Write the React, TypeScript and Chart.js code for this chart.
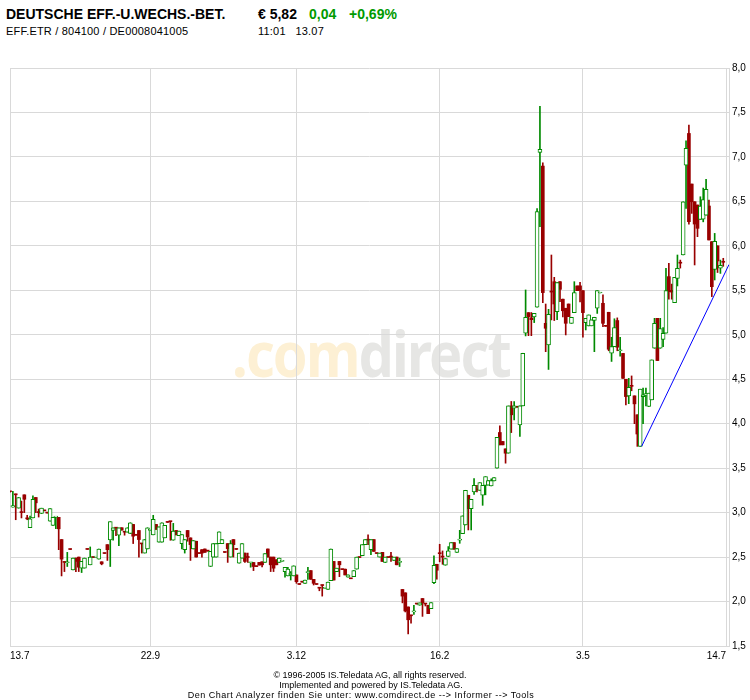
import React, { useEffect, useRef } from 'react';
import { Chart, registerables } from 'chart.js';

Chart.register(...registerables);

// Daily candles, 13.7.2004 .. 14.7.2005 (trading-day index = array position)
const openP = [
  3.24, 3.06, 3.21, 3.05, 3.01, 3.20, 2.935, 2.83, 2.94, 3.17,
  3.01, 2.99, 3.025, 3.00, 2.905, 2.856, 2.95, 2.947, 2.697, 2.447,
  2.436, 2.59, 2.356, 2.489, 2.50, 2.375, 2.375, 2.591, 2.413, 2.50,
  2.50, 2.477, 2.447, 2.545, 2.64, 2.693, 2.80, 2.83, 2.746, 2.83,
  2.784, 2.78, 2.765, 2.867, 2.75, 2.799, 2.652, 2.545, 2.591, 2.80,
  2.75, 2.867, 2.667, 2.667, 2.716, 2.894, 2.90, 2.689, 2.799, 2.742,
  2.652, 2.583, 2.799, 2.716, 2.591, 2.678, 2.545, 2.583, 2.591, 2.572,
  2.394, 2.50, 2.50, 2.652, 2.652, 2.557, 2.652, 2.50, 2.697, 2.591,
  2.432, 2.489, 2.545, 2.50, 2.436, 2.439, 2.398, 2.44, 2.447, 2.439,
  2.591, 2.50, 2.50, 2.47, 2.439, 2.451, 2.337, 2.288, 2.30, 2.288,
  2.299, 2.197, 2.223, 2.205, 2.326, 2.348, 2.25, 2.197, 2.159, 2.186,
  2.148, 2.136, 2.235, 2.451, 2.337, 2.451, 2.364, 2.364, 2.273, 2.261,
  2.28, 2.364, 2.50, 2.515, 2.64, 2.697, 2.583, 2.697, 2.545, 2.50,
  2.553, 2.439, 2.50, 2.51, 2.462, 2.50, 2.44, 2.136, 2.098, 1.939,
  1.845, 1.883, 1.977, 1.958, 2.034, 1.977, 1.958, 1.92, 2.213, 2.419,
  2.543, 2.506, 2.408, 2.506, 2.588, 2.663, 2.551, 2.69, 2.764, 2.861,
  3.195, 3.045, 3.232, 3.26, 3.251, 3.195, 3.307, 3.31, 3.30, 3.356,
  3.50, 3.901, 3.80, 3.717, 3.668, 4.20, 4.174, 4.19, 3.987, 4.20,
  5.017, 5.249, 5.19, 5.20, 5.309, 7.05, 6.897, 5.129, 4.886, 5.485,
  5.597, 5.26, 5.597, 5.40, 5.298, 5.346, 5.129, 5.249, 5.549, 5.55,
  5.496, 5.137, 5.099, 5.10, 5.16, 5.298, 5.47, 5.354, 5.10, 5.253,
  4.792, 4.867, 5.16, 4.82, 4.79, 4.50, 4.313, 4.43, 4.313, 4.10,
  3.745, 4.305, 4.32, 4.193, 4.268, 4.848, 5.185, 4.848, 4.949, 5.017,
  5.654, 5.50, 5.361, 5.635, 5.81, 5.897, 6.908, 7.264, 6.695, 6.496,
  6.459, 6.298, 6.30, 6.346, 6.448, 6.047, 5.736, 6.00, 5.75, 5.82,
];
const highP = [
  3.24, 3.24, 3.21, 3.17, 3.13, 3.20, 2.97, 2.96, 3.19, 3.17,
  3.04, 3.05, 3.025, 3.00, 3.045, 2.947, 2.955, 2.947, 2.697, 2.447,
  2.553, 2.59, 2.489, 2.489, 2.50, 2.451, 2.489, 2.591, 2.614, 2.50,
  2.505, 2.591, 2.447, 2.545, 2.64, 2.898, 2.83, 2.83, 2.83, 2.83,
  2.784, 2.83, 2.886, 2.867, 2.75, 2.799, 2.652, 2.697, 2.83, 2.805,
  2.97, 2.867, 2.841, 2.886, 2.856, 2.894, 2.90, 2.879, 2.799, 2.792,
  2.754, 2.697, 2.799, 2.716, 2.686, 2.678, 2.545, 2.583, 2.591, 2.572,
  2.564, 2.652, 2.652, 2.784, 2.697, 2.557, 2.652, 2.686, 2.697, 2.591,
  2.545, 2.652, 2.545, 2.545, 2.44, 2.439, 2.398, 2.44, 2.447, 2.538,
  2.591, 2.50, 2.50, 2.47, 2.489, 2.455, 2.386, 2.386, 2.337, 2.402,
  2.299, 2.197, 2.223, 2.242, 2.386, 2.348, 2.25, 2.197, 2.159, 2.186,
  2.152, 2.22, 2.591, 2.451, 2.375, 2.451, 2.364, 2.364, 2.299, 2.261,
  2.348, 2.50, 2.50, 2.64, 2.697, 2.75, 2.697, 2.697, 2.545, 2.545,
  2.553, 2.50, 2.50, 2.553, 2.50, 2.50, 2.489, 2.136, 2.098, 1.939,
  1.845, 1.958, 1.977, 1.985, 2.034, 1.977, 1.958, 1.989, 2.513, 2.419,
  2.644, 2.569, 2.483, 2.618, 2.663, 2.663, 2.596, 2.801, 2.963, 3.251,
  3.195, 3.15, 3.382, 3.307, 3.337, 3.307, 3.404, 3.36, 3.38, 3.393,
  3.848, 3.976, 3.80, 3.717, 4.20, 4.25, 4.25, 4.19, 4.20, 4.792,
  5.504, 5.249, 5.25, 5.24, 6.42, 7.57, 6.934, 5.346, 5.286, 5.897,
  5.646, 5.586, 5.597, 5.40, 5.298, 5.346, 5.197, 5.597, 5.549, 5.59,
  5.496, 5.185, 5.223, 5.167, 5.197, 5.496, 5.475, 5.448, 5.10, 5.253,
  4.972, 5.18, 5.19, 4.97, 4.79, 4.50, 4.51, 4.537, 4.313, 4.10,
  4.388, 4.40, 4.40, 4.343, 4.717, 5.185, 5.185, 5.185, 5.08, 5.747,
  5.803, 5.57, 5.646, 5.897, 5.84, 6.496, 7.18, 7.358, 6.695, 6.496,
  6.459, 6.552, 6.65, 6.747, 6.515, 6.047, 6.14, 6.00, 5.84, 5.86,
];
const lowP = [
  3.23, 3.06, 2.92, 3.05, 2.94, 3.00, 2.92, 2.83, 2.94, 3.00,
  2.95, 2.99, 3.02, 2.995, 2.905, 2.856, 2.82, 2.583, 2.288, 2.337,
  2.394, 2.585, 2.356, 2.337, 2.337, 2.326, 2.375, 2.586, 2.413, 2.495,
  2.50, 2.477, 2.413, 2.54, 2.462, 2.394, 2.69, 2.74, 2.629, 2.803,
  2.746, 2.78, 2.765, 2.652, 2.745, 2.50, 2.545, 2.545, 2.591, 2.80,
  2.75, 2.811, 2.667, 2.667, 2.716, 2.89, 2.689, 2.689, 2.75, 2.742,
  2.591, 2.545, 2.678, 2.462, 2.591, 2.50, 2.54, 2.50, 2.553, 2.567,
  2.394, 2.50, 2.50, 2.652, 2.652, 2.552, 2.44, 2.50, 2.50, 2.586,
  2.432, 2.489, 2.44, 2.44, 2.386, 2.348, 2.393, 2.41, 2.39, 2.439,
  2.50, 2.337, 2.337, 2.413, 2.439, 2.451, 2.273, 2.288, 2.242, 2.288,
  2.205, 2.192, 2.218, 2.205, 2.25, 2.25, 2.186, 2.192, 2.121, 2.061,
  2.148, 2.136, 2.235, 2.242, 2.337, 2.28, 2.359, 2.299, 2.273, 2.256,
  2.28, 2.364, 2.495, 2.515, 2.64, 2.64, 2.527, 2.564, 2.54, 2.50,
  2.451, 2.439, 2.495, 2.451, 2.462, 2.413, 2.394, 1.985, 1.883, 1.636,
  1.758, 1.856, 1.972, 1.958, 1.833, 1.95, 1.864, 1.92, 2.20, 2.251,
  2.446, 2.419, 2.408, 2.506, 2.588, 2.588, 2.551, 2.655, 2.764, 2.861,
  2.805, 2.805, 3.206, 3.232, 3.251, 3.082, 3.20, 3.31, 3.30, 3.356,
  3.50, 3.762, 3.762, 3.556, 3.668, 3.90, 4.043, 4.185, 3.856, 4.20,
  4.987, 4.99, 4.99, 5.137, 5.309, 6.215, 5.361, 4.81, 4.61, 5.167,
  5.16, 5.17, 5.373, 5.20, 4.998, 5.204, 5.129, 5.249, 5.496, 5.37,
  4.972, 5.054, 5.099, 5.10, 4.81, 5.24, 5.47, 5.092, 5.095, 4.82,
  4.70, 4.867, 4.82, 4.76, 4.51, 4.212, 4.225, 4.37, 4.00, 3.745,
  3.745, 4.00, 4.20, 4.193, 4.268, 4.848, 4.71, 4.848, 4.867, 5.017,
  5.399, 5.40, 5.361, 5.549, 5.75, 5.897, 6.421, 6.245, 6.365, 5.785,
  6.103, 6.298, 6.27, 6.346, 6.066, 5.429, 5.616, 5.70, 5.69, 5.77,
];
const closeP = [
  3.235, 3.08, 3.20, 3.17, 3.00, 3.15, 2.93, 2.93, 3.15, 3.11,
  3.00, 3.05, 3.02, 2.995, 3.045, 2.947, 2.955, 2.818, 2.477, 2.44,
  2.44, 2.585, 2.489, 2.451, 2.386, 2.451, 2.489, 2.586, 2.50, 2.495,
  2.505, 2.591, 2.424, 2.54, 2.583, 2.898, 2.83, 2.825, 2.83, 2.803,
  2.78, 2.83, 2.886, 2.735, 2.745, 2.697, 2.648, 2.697, 2.83, 2.805,
  2.924, 2.811, 2.841, 2.886, 2.856, 2.89, 2.898, 2.792, 2.75, 2.792,
  2.754, 2.697, 2.727, 2.64, 2.686, 2.50, 2.54, 2.545, 2.553, 2.567,
  2.564, 2.652, 2.652, 2.784, 2.697, 2.552, 2.595, 2.652, 2.64, 2.586,
  2.545, 2.652, 2.451, 2.495, 2.44, 2.394, 2.393, 2.41, 2.413, 2.538,
  2.50, 2.413, 2.375, 2.413, 2.489, 2.455, 2.386, 2.364, 2.32, 2.402,
  2.223, 2.192, 2.218, 2.242, 2.33, 2.25, 2.205, 2.192, 2.15, 2.18,
  2.152, 2.22, 2.591, 2.242, 2.375, 2.413, 2.359, 2.299, 2.299, 2.256,
  2.348, 2.50, 2.495, 2.64, 2.697, 2.69, 2.697, 2.564, 2.54, 2.545,
  2.451, 2.50, 2.495, 2.50, 2.50, 2.413, 2.445, 2.061, 1.894, 1.795,
  1.84, 1.888, 1.972, 1.985, 1.985, 1.972, 1.864, 1.989, 2.408, 2.352,
  2.538, 2.50, 2.483, 2.569, 2.663, 2.588, 2.596, 2.695, 2.963, 3.251,
  3.045, 3.15, 3.307, 3.255, 3.337, 3.307, 3.404, 3.36, 3.36, 3.393,
  3.848, 3.762, 3.762, 3.668, 4.20, 4.10, 4.20, 4.185, 4.20, 4.792,
  5.197, 5.204, 5.17, 5.24, 6.384, 7.084, 5.474, 5.073, 5.23, 5.48,
  5.346, 5.586, 5.511, 5.27, 5.129, 5.204, 5.197, 5.474, 5.496, 5.50,
  5.249, 5.185, 5.223, 5.167, 5.197, 5.496, 5.475, 5.129, 5.095, 4.837,
  4.867, 5.08, 4.86, 4.825, 4.51, 4.305, 4.41, 4.42, 4.223, 3.884,
  4.388, 4.324, 4.34, 4.343, 4.717, 5.129, 4.71, 5.07, 5.017, 5.496,
  5.485, 5.48, 5.646, 5.747, 5.805, 6.496, 7.096, 6.272, 6.496, 6.245,
  6.197, 6.448, 6.52, 6.635, 6.066, 5.541, 6.05, 5.83, 5.78, 5.815,
];

const tickIdx = [0, 49, 100, 150, 200, 250];
const tickLabels = ['13.7', '22.9', '3.12', '16.2', '3.5', '14.7'];

const trendX = [220.5, 251];
const trendY = [3.745, 5.79];

const Y_MIN = 1.5;
const Y_MAX = 8.0;
const X_MAX = 251;

const GREEN = '#008a00';
const RED = '#990000';
const GRID = '#d9d9d9';
const FONT = '"Liberation Sans", Arial, sans-serif';

export default function App() {
  const ref = useRef<HTMLCanvasElement>(null);

  useEffect(() => {
    const gW: any[] = [];
    const gB: any[] = [];
    const rW: any[] = [];
    const rB: any[] = [];
    openP.forEach((o, i) => {
      const c = closeP[i];
      const lo = Math.min(lowP[i], o, c);
      const hi = Math.max(highP[i], o, c);
      if (c >= o) {
        gW.push({ x: i, y: [lo, hi] });
        gB.push({ x: i, y: [o, c] });
      } else {
        rW.push({ x: i, y: [lo, hi] });
        rB.push({ x: i, y: [c, o] });
      }
    });

    const chart = new Chart(ref.current as HTMLCanvasElement, {
      type: 'bar',
      data: {
        datasets: [
          {
            type: 'line',
            label: 'trend',
            data: trendX.map((x, k) => ({ x, y: trendY[k] })),
            borderColor: '#0000ff',
            borderWidth: 1,
            pointRadius: 0,
            order: -1,
          } as any,
          {
            label: 'gBody',
            data: gB,
            backgroundColor: '#ffffff',
            borderColor: GREEN,
            borderWidth: 1,
            borderSkipped: false,
            barThickness: 4,
            minBarLength: 1,
            grouped: false,
            order: 0,
          } as any,
          {
            label: 'rBody',
            data: rB,
            backgroundColor: RED,
            borderWidth: 0,
            barThickness: 3,
            minBarLength: 1,
            grouped: false,
            order: 0,
          } as any,
          {
            label: 'gWick',
            data: gW,
            backgroundColor: GREEN,
            borderWidth: 0,
            barThickness: 1,
            grouped: false,
            order: 1,
          } as any,
          {
            label: 'rWick',
            data: rW,
            backgroundColor: RED,
            borderWidth: 0,
            barThickness: 1,
            grouped: false,
            order: 1,
          } as any,
        ],
      },
      options: {
        animation: false,
        responsive: false,
        maintainAspectRatio: false,
        events: [],
        layout: { padding: { left: 10, top: 68, right: 0, bottom: 0 } },
        plugins: { legend: { display: false }, tooltip: { enabled: false } },
        scales: {
          x: {
            type: 'linear',
            min: 0,
            max: X_MAX,
            offset: false,
            afterBuildTicks: (s: any) => {
              s.ticks = tickIdx.map((v) => ({ value: v }));
            },
            afterFit: (s: any) => {
              s.height = 54;
            },
            ticks: {
              callback: (_v: any, i: number) => tickLabels[i],
              align: 'inner',
              autoSkip: false,
              maxRotation: 0,
              padding: 4,
              color: '#000',
              font: { family: FONT, size: 10 },
            },
            grid: { color: GRID, drawTicks: false, offset: false },
            border: { color: GRID },
          } as any,
          y: {
            type: 'linear',
            position: 'right',
            min: Y_MIN,
            max: Y_MAX,
            afterFit: (s: any) => {
              s.width = 21;
            },
            ticks: {
              stepSize: 0.5,
              callback: (v: any) => Number(v).toFixed(1).replace('.', ','),
              padding: 3,
              color: '#000',
              font: { family: FONT, size: 10 },
            },
            grid: { color: GRID, drawTicks: false },
            border: { color: GRID },
          } as any,
        },
      },
    });
    return () => chart.destroy();
  }, []);

  const abs = (o: React.CSSProperties): React.CSSProperties => ({ position: 'absolute', whiteSpace: 'nowrap', ...o });

  return (
    <div style={{ position: 'absolute', left: 0, top: 0, width: 750, height: 700, background: '#fff', fontFamily: FONT, color: '#000', overflow: 'hidden' }}>
      <div style={abs({ left: 6, top: 6, fontSize: 14, fontWeight: 'bold', lineHeight: '16px' })}>DEUTSCHE EFF.-U.WECHS.-BET.</div>
      <div style={abs({ left: 258, top: 6, fontSize: 14, fontWeight: 'bold', lineHeight: '16px' })}>€ 5,82</div>
      <div style={abs({ left: 309, top: 6, fontSize: 14, fontWeight: 'bold', lineHeight: '16px', color: '#009a00' })}>0,04</div>
      <div style={abs({ left: 349, top: 6, fontSize: 14, fontWeight: 'bold', lineHeight: '16px', color: '#009a00' })}>+0,69%</div>
      <div style={abs({ left: 6, top: 25, fontSize: 11, lineHeight: '12px', letterSpacing: 0.2 })}>EFF.ETR / 804100 / DE0008041005</div>
      <div style={abs({ left: 258, top: 25, fontSize: 11, lineHeight: '12px', letterSpacing: 0.2 })}>11:01&nbsp;&nbsp;&nbsp;13.07</div>

      <div style={abs({ left: 232, top: 322, fontSize: 62, lineHeight: '62px', fontFamily: '"Noto Sans", sans-serif', fontWeight: 'bold', letterSpacing: -2, transform: 'scaleX(0.9)', transformOrigin: 'left top' })}>
        <span style={{ color: '#fdf0d4' }}>.com</span>
        <span style={{ color: '#e6e6e4' }}>direct</span>
      </div>

      <canvas ref={ref} width={750} height={700} style={{ position: 'absolute', left: 0, top: 0, width: 750, height: 700 }} />

      <div style={abs({ left: 0, width: 740, top: 670, fontSize: 9, lineHeight: '10px', textAlign: 'center' })}>© 1996-2005 IS.Teledata AG, all rights reserved.</div>
      <div style={abs({ left: 0, width: 742, top: 680, fontSize: 9, lineHeight: '10px', textAlign: 'center' })}>Implemented and powered by IS.Teledata AG.</div>
      <div style={abs({ left: 0, width: 722, top: 690, fontSize: 9, lineHeight: '10px', textAlign: 'center', letterSpacing: 0.5 })}>Den Chart Analyzer finden Sie unter: www.comdirect.de --&gt; Informer --&gt; Tools</div>
    </div>
  );
}
